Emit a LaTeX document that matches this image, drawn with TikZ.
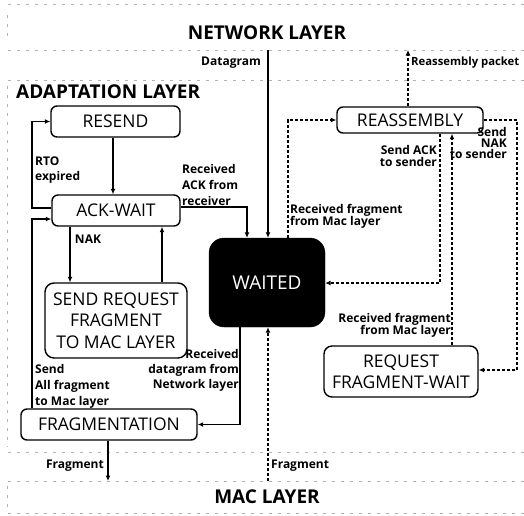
\documentclass[tikz,border=0pt]{standalone}
\usepackage{fontspec}
\setmainfont{Open Sans}
\usetikzlibrary{arrows.meta}

\tikzset{
  state/.style={draw, line width=1.4pt, rounded corners=6pt, align=center,
    inner sep=0pt, font=\fontsize{17.5}{21.5}\selectfont},
  blackstate/.style={fill=black, draw=black, rounded corners=15pt, text=white,
    inner sep=0pt, font=\fontsize{19}{22}\selectfont},
  title/.style={inner sep=0pt, font=\fontsize{19}{22}\selectfont\bfseries},
  lbl/.style={inner sep=0pt, font=\fontsize{12}{13}\selectfont\bfseries},
  flow/.style={line width=1.1pt, -{Latex[length=5.5pt,width=5pt]}},
  dflow/.style={flow, dash pattern=on 3pt off 2pt},
  layerline/.style={gray!60, line width=0.5pt, dash pattern=on 3pt off 6pt}
}

\begin{document}
\begin{tikzpicture}[x=1pt, y=-1pt]
\useasboundingbox (0,0) rectangle (524,515);

% layer separators
\foreach \yy in {4,50,80,452,481,513}
  \draw[layerline] (8,\yy) -- (524,\yy);
\draw[layerline] (7,15) -- (7,42);
\draw[layerline] (7,86) -- (7,447);
\draw[layerline] (7,486) -- (7,512);

% layer titles
\node[title] (net) at (267,33) {NETWORK LAYER};
\node[title, anchor=west] (adapt) at (16,92) {ADAPTATION LAYER};
\node[title] (mac) at (267,497) {MAC LAYER};

% states
\node[state, minimum width=129pt, minimum height=31pt] (resend) at (115.5,121.5) {RESEND};
\node[state, minimum width=128pt, minimum height=31pt] (ackwait) at (116,210.5) {ACK-WAIT};
\node[state, minimum width=142pt, minimum height=75pt, rounded corners=9pt] (sendreq) at (116,320.5)
  {SEND REQUEST\\FRAGMENT\\TO MAC LAYER};
\node[state, minimum width=176pt, minimum height=31pt] (frag) at (109,424.5) {FRAGMENTATION};
\node[blackstate, minimum width=116pt, minimum height=89pt] (waited) at (267,282.5) {WAITED};
\node[state, minimum width=146pt, minimum height=26pt] (reasm) at (410,120) {REASSEMBLY};
\node[state, minimum width=154pt, minimum height=51pt, rounded corners=8pt] (rqwait) at (401,371.5)
  {REQUEST\\FRAGMENT-WAIT};

% connector anchor points
\coordinate (netIn) at (268,50);
\coordinate (netOut) at (408,50);
\coordinate (rtoL) at (32,208);
\coordinate (ackR) at (247,207);
\coordinate (nakX) at (70,0);
\coordinate (reqX) at (162,0);
\coordinate (fragL) at (32,219);
\coordinate (dgR) at (240,424.5);
\coordinate (macIn) at (108,481);
\coordinate (macOut) at (268,481);
\coordinate (rfX) at (288,0);
\coordinate (ackS) at (440,283);
\coordinate (rqX) at (452,0);
\coordinate (nakR) at (517,370);

% sender side
\draw[flow] (netIn) -- (netIn |- waited.north);
\draw[flow] (resend.south -| 113,0) -- (ackwait.north -| 113,0);
\draw[flow] (rtoL -| ackwait.west) -- (rtoL) |- (resend.west);
\draw[flow] (ackR -| ackwait.east) -- (ackR) -- (ackR |- waited.north);
\draw[flow] (nakX |- ackwait.south) -- (nakX |- sendreq.north);
\draw[flow] (reqX |- sendreq.north) -- (reqX |- ackwait.south);
\draw[flow] (fragL |- frag.north) -- (fragL) -- (fragL -| ackwait.west);
\draw[flow] (dgR |- waited.south) -- (dgR) -- (dgR -| frag.east);
\draw[flow] (macIn |- frag.south) -- (macIn);

% receiver side
\draw[dflow] (reasm.north -| netOut) -- (netOut);
\draw[dflow] (macOut) -- (macOut |- waited.south);
\draw[dflow] (rfX |- waited.north) |- (reasm.west);
\draw[dflow] (ackS |- reasm.south) -- (ackS) -- (ackS -| waited.east);
\draw[dflow] (rqX |- rqwait.north) -- (rqX |- reasm.south);
\draw[dflow] (reasm.east) -| (nakR) -- (nakR -| rqwait.east);

% transition labels
\node[lbl, anchor=east] (lDatagram) at (261,63) {Datagram};
\node[lbl, anchor=west, font=\fontsize{11.3}{13}\selectfont\bfseries] (lReasm) at (411,63) {Reassembly packet};
\node[lbl, anchor=north west, align=left, font=\fontsize{12}{15}\selectfont\bfseries] (lRto) at (35,157) {RTO\\expired};
\node[lbl, anchor=south west, align=left, font=\fontsize{12}{16}\selectfont\bfseries] (lAck) at (182,206) {Received\\ACK from\\receiver};
\node[lbl] (lNak) at (88,239) {NAK};
\node[lbl, anchor=south west, align=left, font=\fontsize{12}{16}\selectfont\bfseries] (lAll) at (35,409) {Send\\All fragment\\to Mac layer};
\node[lbl, anchor=north east, align=right, font=\fontsize{12}{15}\selectfont\bfseries] (lDg) at (239,349) {Received\\datagram from\\Network layer};
\node[lbl, anchor=east] (lFragL) at (104,466) {Fragment};
\node[lbl, anchor=west] (lFragR) at (271,466) {Fragment};
\node[lbl, anchor=north west, align=left, font=\fontsize{12}{12.5}\selectfont\bfseries] (lRf1) at (290,204) {Received fragment\\from Mac layer};
\node[lbl, anchor=north east, align=right, font=\fontsize{12}{12}\selectfont\bfseries] (lSack) at (437,145) {Send ACK\\to sender};
\node[lbl, anchor=north east, align=right, font=\fontsize{12}{11}\selectfont\bfseries] (lSnak) at (507,127) {Send\\NAK\\to sender};
\node[lbl, anchor=north east, align=right, font=\fontsize{12}{12.5}\selectfont\bfseries] (lRf2) at (451,313) {Received fragment\\from Mac layer};
\end{tikzpicture}
\end{document}
